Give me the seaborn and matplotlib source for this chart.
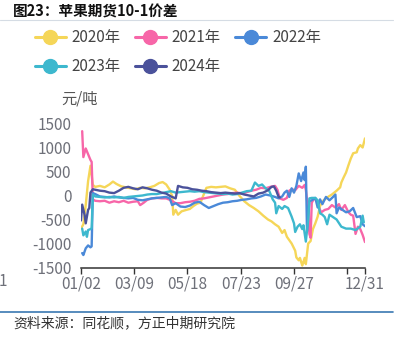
import numpy as np
import pandas as pd
import matplotlib
matplotlib.use("Agg")
import matplotlib.pyplot as plt
from matplotlib.lines import Line2D
import seaborn as sns

# ---------------- data (trading-day index, value 元/吨) ----------------
years = ["2020年", "2021年", "2022年", "2023年", "2024年"]
colors = ["#F5D658", "#F766A8", "#4A89D8", "#3DB8CE", "#4B529B"]

x_2020 = [0, 2, 4, 6, 8, 10, 12, 16, 20, 24, 27, 30, 34, 38, 42, 46, 50, 54, 58, 62, 66, 69, 72, 75, 77, 78, 80, 82, 85, 89, 92, 95, 98, 101, 104, 106, 110, 114, 118, 122, 126, 130, 134, 138, 142, 146, 150, 154, 158, 161, 164, 167, 170, 172, 174, 178, 181, 182, 184, 185, 187, 189, 190, 192, 194, 196, 198, 200, 202, 205, 208, 212, 216, 219, 220, 222, 224, 226, 228, 230, 233, 234, 236, 238, 240]
y_2020 = [-690, -600, -200, 300, 620, 220, 180, 200, 170, 230, 290, 240, 190, 170, 150, 130, 160, 150, 170, 200, 260, 280, 230, 120, -10, -400, -300, -400, -330, -300, -280, -220, -170, -150, 40, 160, 180, 170, 180, 190, 150, 120, -10, -120, -200, -260, -330, -420, -500, -540, -600, -650, -780, -720, -860, -1000, -1150, -1290, -1350, -1300, -1460, -1300, -1430, -1000, -950, -700, -580, -440, -220, -100, -40, 20, 100, 170, 270, 380, 480, 630, 770, 880, 900, 980, 1050, 1000, 1190]

x_2021 = [1, 2, 4, 6, 8, 9, 10, 12, 16, 20, 24, 28, 32, 36, 40, 44, 48, 50, 53, 56, 60, 64, 68, 72, 76, 80, 84, 88, 92, 96, 100, 104, 108, 112, 116, 120, 124, 128, 132, 136, 140, 144, 148, 152, 156, 160, 164, 166, 168, 171, 174, 176, 178, 181, 184, 187, 189, 190, 192, 193, 194, 195, 197, 199, 201, 203, 206, 209, 212, 215, 218, 220, 223, 226, 228, 230, 232, 234, 236, 238, 240]
y_2021 = [1340, 800, 980, 860, 740, 700, -80, -110, -120, -110, -150, -120, -140, -110, -150, -130, -120, -200, -150, -90, -60, -50, -60, -60, -100, -160, -160, -140, -130, -110, -70, -60, -40, -20, 0, 20, 30, 50, 60, 40, 70, 100, 120, 160, 150, 180, 200, 120, -60, -90, -50, 100, 130, 110, 200, 160, 220, 120, -300, -800, -880, -150, -60, -100, -250, -350, -300, -280, -200, -250, -180, -300, -200, -350, -400, -420, -800, -650, -700, -820, -970]

x_2022 = [1, 2, 4, 6, 8, 9, 10, 12, 16, 20, 24, 28, 32, 36, 40, 44, 48, 52, 56, 60, 64, 68, 72, 75, 77, 80, 84, 88, 92, 96, 100, 104, 108, 112, 116, 120, 124, 128, 132, 136, 140, 144, 148, 152, 156, 160, 164, 167, 170, 172, 174, 176, 178, 180, 182, 184, 186, 188, 189, 190, 191, 193, 195, 198, 200, 202, 204, 207, 210, 213, 215, 216, 218, 221, 224, 227, 230, 233, 236, 238, 240]
y_2022 = [-1200, -1240, -1100, -1040, -1080, -1060, 50, 30, -20, -30, -40, -20, -40, -50, -60, -50, -90, -100, -80, -60, -50, -40, -30, -60, -200, -160, -230, -240, -210, -150, -130, -200, -260, -220, -180, -150, -140, -120, -110, -90, -80, -60, -50, -20, 20, 0, -30, -60, -20, 60, 100, -30, 150, 60, 200, 460, 300, 480, 320, 600, -750, -120, -100, -50, -250, -80, -180, -30, -100, -30, 20, -370, -250, -300, -350, -330, -260, -450, -430, -600, -640]

x_2023 = [1, 2, 4, 5, 6, 8, 9, 10, 12, 16, 20, 24, 28, 32, 36, 40, 44, 48, 52, 56, 60, 64, 68, 72, 76, 80, 84, 88, 92, 96, 100, 104, 108, 112, 116, 120, 124, 128, 132, 136, 140, 144, 147, 150, 153, 156, 159, 162, 164, 165, 167, 170, 172, 175, 178, 180, 181, 183, 185, 187, 188, 190, 192, 193, 195, 198, 200, 202, 204, 206, 208, 210, 213, 216, 220, 224, 228, 232, 236, 238, 239]
y_2023 = [-690, -830, -750, -860, -720, -700, -680, 20, -20, -30, -40, -30, -40, -30, -50, -30, -20, -10, 0, 20, 30, 30, 50, 70, 90, 60, 70, 80, 90, 80, 90, 70, 60, 50, 40, 30, 40, 20, 30, 60, 90, 100, 270, 200, 230, 150, 100, -80, -150, -370, -220, -280, -220, -260, -440, -580, -760, -650, -600, -700, -620, -960, -500, -60, -50, -50, -100, -370, -400, -450, -600, -400, -450, -500, -650, -690, -690, -720, -650, -420, -560]

x_2024 = [0, 1, 3, 4, 6, 7, 8, 10, 12, 16, 20, 24, 28, 32, 36, 40, 44, 48, 52, 56, 60, 64, 68, 72, 76, 78, 80, 82, 86, 90, 94, 98, 102, 106, 110, 114, 118, 122, 126, 130, 134, 138, 142, 146, 150, 154, 158, 161, 163, 165, 167, 168]
y_2024 = [-520, -190, -400, -580, -300, -260, 60, 130, 120, 100, 90, 60, 50, 100, 160, 180, 150, 130, 170, 150, 120, 100, 60, 40, -20, -40, -60, 200, 170, 160, 130, 120, 100, 90, 70, 60, 50, 60, 50, 40, 50, 20, 0, -20, 40, 60, 110, 180, 190, 100, -30, -40]

tick_idx = [0, 45, 90, 135, 180, 225, 240]
tick_labels = ["01/02", "03/09", "05/18", "07/23", "09/27", "", "12/31"]
y_ticks = [-1500, -1000, -500, 0, 500, 1000, 1500]

title = "图23：苹果期货10-1价差"
unit = "元/吨"
source = "资料来源：同花顺，方正中期研究院"

# ---------------- build frame ----------------
xs = [x_2020, x_2021, x_2022, x_2023, x_2024]
ys = [y_2020, y_2021, y_2022, y_2023, y_2024]
df = pd.concat(
    [pd.DataFrame({"idx": x, "value": y, "year": yr}) for x, y, yr in zip(xs, ys, years)],
    ignore_index=True,
)

sns.set_theme(style="white")
plt.rcParams["font.family"] = ["Noto Sans CJK SC", "DejaVu Sans"]
plt.rcParams["axes.unicode_minus"] = False

W, H = 402, 344
fig = plt.figure(figsize=(W / 100, H / 100), dpi=100)
fig.patch.set_facecolor("white")

ax_l, ax_r, ax_t, ax_b = 81, 365, 123.5, 267.5
ax = fig.add_axes([ax_l / W, 1 - ax_b / H, (ax_r - ax_l) / W, (ax_b - ax_t) / H])

palette = dict(zip(years, colors))
sns.lineplot(data=df, x="idx", y="value", hue="year", hue_order=years,
             palette=palette, estimator=None, sort=False, lw=1.7,
             legend=False, ax=ax)

ax.set_xlim(0, 240)
ax.set_ylim(-1500, 1500)
ax.set_xticks(tick_idx)
ax.set_xticklabels(tick_labels)
ax.set_yticks(y_ticks)
ax.set_yticklabels([str(v) for v in y_ticks])
ax.set_xlabel("")
ax.set_ylabel("")
for s in ["left", "right", "top"]:
    ax.spines[s].set_visible(False)
ax.spines["bottom"].set_color("#333333")
ax.spines["bottom"].set_linewidth(1.1)
ax.tick_params(axis="x", direction="out", length=4, width=1.0, color="#333333",
               pad=2, labelsize=11, labelcolor="#6E7079", bottom=True)
ax.tick_params(axis="y", length=0, pad=7, labelsize=11, labelcolor="#6E7079")
ax.grid(False)
ax.patch.set_alpha(0)

# legend (row-major order for 3 columns)
handles = [Line2D([0], [0], color=c, lw=2.2, marker="o", markersize=10,
                  markerfacecolor=c, markeredgecolor=c) for c in colors]
order = [0, 3, 1, 4, 2]
fig.legend([handles[i] for i in order], [years[i] for i in order],
           loc="upper left", bbox_to_anchor=(35 / W, 1 - 29 / H),
           ncol=3, frameon=False, fontsize=11, handlelength=2.0,
           handletextpad=0.4, columnspacing=0.95, labelspacing=0.78,
           borderpad=0, borderaxespad=0, labelcolor="#444444")

# texts
fig.text(13 / W, 1 - 12 / H, title, fontsize=10.5, fontweight="bold",
         color="#111111", ha="left", va="center")
fig.add_artist(Line2D([0, 393 / W], [1 - 20 / H, 1 - 20 / H],
                      color="#D5DCE4", lw=0.8, transform=fig.transFigure))
fig.text(80 / W, 1 - 99 / H, unit, fontsize=11, color="#555555",
         ha="center", va="center")
fig.text(-1 / W, 1 - 282 / H, "1", fontsize=11, color="#6E7079",
         ha="left", va="center")
fig.add_artist(Line2D([0, 393 / W], [1 - 312 / H, 1 - 312 / H],
                      color="#3A78B2", lw=1.2, transform=fig.transFigure))
fig.text(13 / W, 1 - 323 / H, source, fontsize=10, color="#333333",
         ha="left", va="center")

fig.savefig("out.png", dpi=100, facecolor="white")
